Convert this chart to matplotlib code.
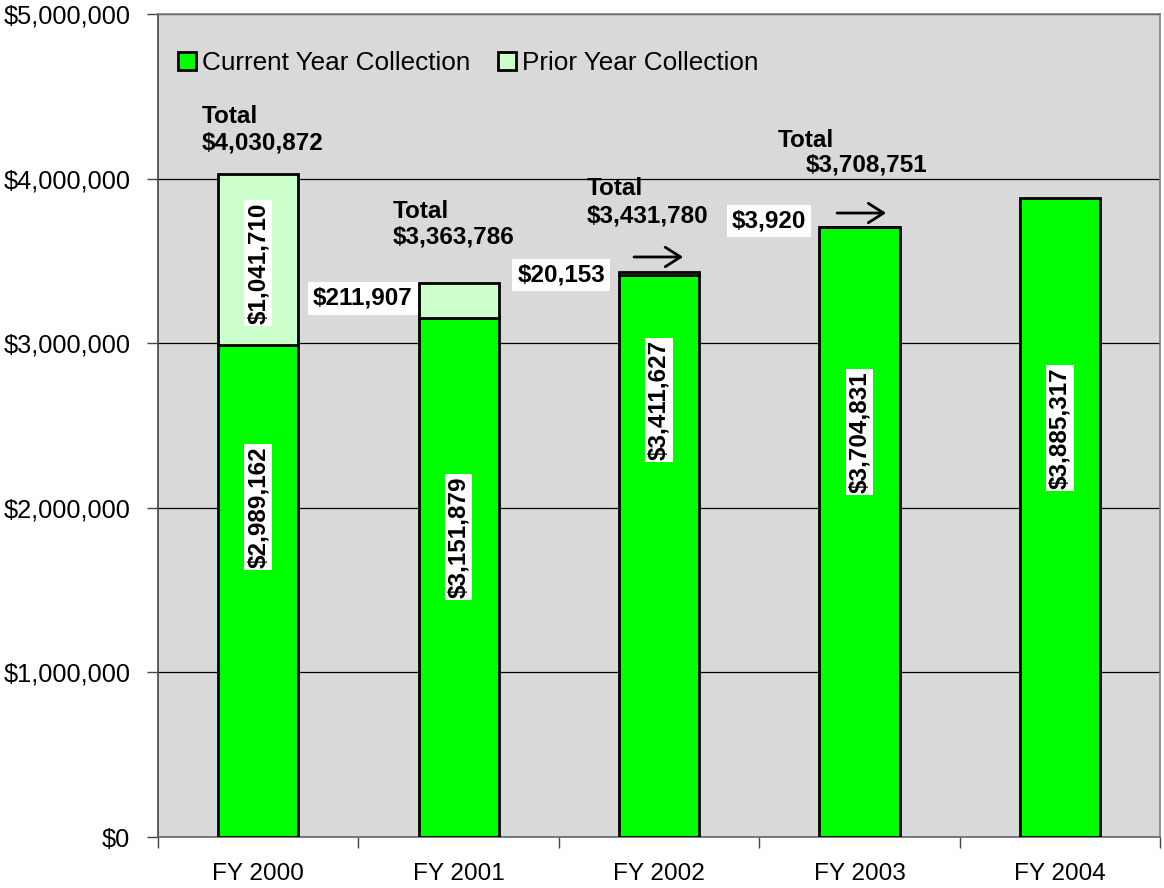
import numpy as np
import matplotlib
matplotlib.use('Agg')
import matplotlib.pyplot as plt
from matplotlib.ticker import FuncFormatter, MultipleLocator

plt.rcParams['font.family'] = ['Liberation Sans', 'DejaVu Sans']

years = ['FY 2000', 'FY 2001', 'FY 2002', 'FY 2003', 'FY 2004']
current = [2989162, 3151879, 3411627, 3704831, 3885317]
prior = [1041710, 211907, 20153, 3920, 0]
totals = [4030872, 3363786, 3431780, 3708751]

def money(v):
    return '${:,.0f}'.format(v)

fig = plt.figure(figsize=(11.64, 8.88), dpi=100)
ax = fig.add_axes([0.1357, 0.0574, 0.861, 0.9268])
ax.set_facecolor('#d9d9d9')

x = np.arange(len(years))
w = 0.4
ax.bar(x, current, w, color='#00ff00', edgecolor='black', linewidth=2.0, label='Current Year Collection', zorder=3)
pr = [p if p > 0 else np.nan for p in prior]
ax.bar(x, pr, w, bottom=current, color='#ccffcc', edgecolor='black', linewidth=2.0, label='Prior Year Collection', zorder=3)

ax.set_xlim(-0.5, 4.5)
ax.set_ylim(0, 5000000)
ax.yaxis.set_major_locator(MultipleLocator(1000000))
ax.yaxis.set_major_formatter(FuncFormatter(lambda v, p: money(v)))
ax.grid(axis='y', color='black', linewidth=0.9, zorder=1)
ax.set_axisbelow(True)

# x: boundary ticks without labels, labels at centres
ax.set_xticks(np.arange(-0.5, 4.6, 1.0))
ax.set_xticklabels([])
ax.set_xticks(x, minor=True)
ax.set_xticklabels(years, minor=True)
ax.tick_params(axis='x', which='major', length=8, width=1, color='#444444')
ax.tick_params(axis='x', which='minor', length=0, pad=19, labelsize=17.6)
ax.tick_params(axis='y', length=8, width=1, color='#444444', pad=12, labelsize=18.3)

for s in ['top', 'right']:
    ax.spines[s].set_color('#808080')
ax.spines['left'].set_color('#444444')
ax.spines['bottom'].set_color('#666666')
for s in ax.spines.values():
    s.set_linewidth(1.2)

leg = ax.legend(loc='center left', bbox_to_anchor=(0.02, 0.9405), ncol=2, frameon=False,
                fontsize=18.8, handlelength=0.69, handleheight=0.69, handletextpad=0.23,
                columnspacing=1.07, borderaxespad=0, borderpad=0)
for h in leg.legend_handles:
    h.set_linewidth(2.0)

# vertical value labels inside bars (layout positions)
seg_vals = [prior[0]] + current
seg_x = [0, 0, 1, 2, 3, 4]
seg_y = [3487000, 2005000, 1823000, 2655000, 2460000, 2485000]
box = dict(facecolor='white', edgecolor='none', pad=1.5)
for xi, yi, v in zip(seg_x, seg_y, seg_vals):
    ax.text(xi, yi, money(v), rotation=90, ha='center', va='center',
            fontsize=17.5, fontweight='bold', bbox=box, zorder=5)

# small prior labels beside bars
small_pos = [(0.523, 3272000), (1.511, 3414000), (2.549, 3742000)]
for (xi, yi), v in zip(small_pos, prior[1:4]):
    ax.text(xi, yi, money(v), ha='center', va='center', fontsize=17.5,
            fontweight='bold', bbox=dict(facecolor='white', edgecolor='none', pad=3.5), zorder=5)

# total labels: (x of "Total", baseline of "Total", x of amount, baseline of amount)
tot_pos = [(-0.2804, 4338000, -0.2804, 4174000),
           (0.6727, 3761000, 0.6727, 3603000),
           (1.6407, 3900000, 1.6407, 3736000),
           (2.5938, 4192000, 2.7335, 4043000)]
for (xt, yt, xn, yn), t in zip(tot_pos, totals):
    ax.text(xt, yt, 'Total', ha='left', va='baseline', fontsize=17.5, fontweight='bold', zorder=5)
    ax.text(xn, yn, money(t), ha='left', va='baseline', fontsize=17.5, fontweight='bold', zorder=5)

# arrows
for (x0, x1, ya) in [(1.875, 2.120, 3524000), (2.888, 3.133, 3791000)]:
    ax.annotate('', xy=(x1, ya), xytext=(x0, ya),
                arrowprops=dict(arrowstyle='->,head_length=1.1,head_width=0.7', color='black',
                                lw=2.0, shrinkA=0, shrinkB=0), zorder=5)

fig.savefig('out.png', dpi=100)
